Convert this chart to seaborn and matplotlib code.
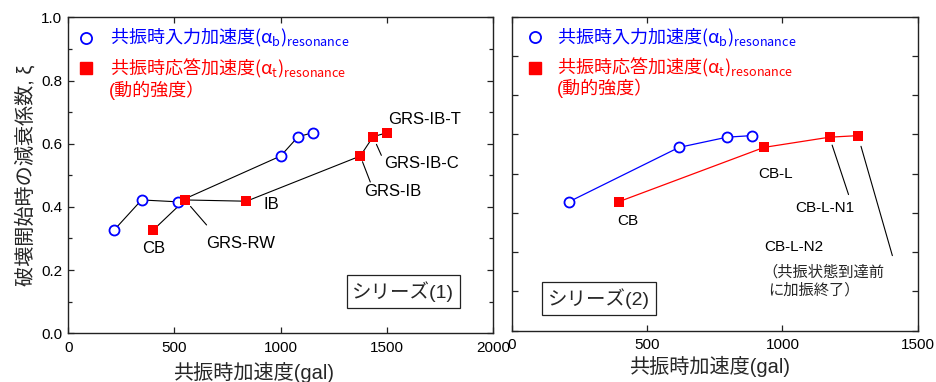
import matplotlib
matplotlib.use("Agg")
import matplotlib.pyplot as plt
from matplotlib.lines import Line2D
from matplotlib.ticker import MultipleLocator, FormatStrFormatter
import seaborn as sns
import pandas as pd

# ---------------- data ----------------
# Series (1)
s1_input_x = [216, 345, 517, 1000, 1082, 1152]
s1_input_y = [0.327, 0.422, 0.416, 0.561, 0.622, 0.635]
s1_resp_labels = ["CB", "GRS-RW", "IB", "GRS-IB", "GRS-IB-C", "GRS-IB-T"]
s1_resp_x = [400, 549, 839, 1375, 1435, 1502]
s1_resp_y = [0.327, 0.422, 0.418, 0.561, 0.622, 0.635]

# Series (2)
s2_input_x = [213, 618, 795, 886]
s2_input_y = [0.329, 0.467, 0.493, 0.497]
s2_resp_labels = ["CB", "CB-L", "CB-L-N1", "CB-L-N2"]
s2_resp_x = [397, 932, 1174, 1279]
s2_resp_y = [0.329, 0.467, 0.493, 0.497]

x_ticks_1 = [0, 500, 1000, 1500, 2000]
x_ticks_2 = [0, 500, 1000, 1500]

label_input = "共振時入力加速度(α$_\\mathrm{b}$)$_\\mathrm{resonance}$"
label_resp = "共振時応答加速度(α$_\\mathrm{t}$)$_\\mathrm{resonance}$"
label_resp2 = "(動的強度）"
xlabel = "共振時加速度(gal)"
ylabel = "破壊開始時の減衰係数, ξ"

BLUE = "#0000FF"
RED = "#FF0000"

sns.set_theme(style="ticks")
plt.rcParams["font.family"] = ["Liberation Sans", "Noto Sans CJK JP", "DejaVu Sans"]
plt.rcParams["mathtext.fontset"] = "custom"
plt.rcParams["mathtext.rm"] = "Noto Sans CJK JP"
plt.rcParams["mathtext.it"] = "Noto Sans CJK JP"
plt.rcParams["mathtext.bf"] = "Noto Sans CJK JP:bold"

fig = plt.figure(figsize=(9.36, 3.82), dpi=100)
ax1 = fig.add_axes([0.0730, 0.1275, 0.4537, 0.8272])
ax2 = fig.add_axes([0.5467, 0.1343, 0.4338, 0.8220])

df1_in = pd.DataFrame({"x": s1_input_x, "y": s1_input_y})
df1_re = pd.DataFrame({"x": s1_resp_x, "y": s1_resp_y, "label": s1_resp_labels})
df2_in = pd.DataFrame({"x": s2_input_x, "y": s2_input_y})
df2_re = pd.DataFrame({"x": s2_resp_x, "y": s2_resp_y, "label": s2_resp_labels})


def draw_series(ax, din, dre, line_in, line_re, lw):
    sns.lineplot(data=din, x="x", y="y", sort=False, estimator=None, ax=ax,
                 color=line_in, lw=lw, zorder=2)
    sns.lineplot(data=dre, x="x", y="y", sort=False, estimator=None, ax=ax,
                 color=line_re, lw=lw, zorder=2)
    sns.scatterplot(data=din, x="x", y="y", ax=ax, marker="o", s=52,
                    facecolor="white", edgecolor=BLUE, linewidth=1.3, zorder=3)
    sns.scatterplot(data=dre, x="x", y="y", ax=ax, marker="s", s=54,
                    color=RED, edgecolor=RED, linewidth=0, zorder=4)


draw_series(ax1, df1_in, df1_re, "black", "black", 0.8)
draw_series(ax2, df2_in, df2_re, BLUE, RED, 0.9)

# ---------------- axes styling ----------------
for ax in (ax1, ax2):
    for sp in ax.spines.values():
        sp.set_color("#222222")
        sp.set_linewidth(1.0)
        sp.set_visible(True)
    ax.tick_params(which="both", direction="in", top=True, right=True,
                   colors="#222222", width=0.9, labelsize=11, labelcolor="black")
    ax.tick_params(which="major", length=4.5)
    ax.tick_params(which="minor", length=3)
    ax.tick_params(axis="x", pad=5.5)
    ax.tick_params(axis="y", pad=4.5)
    ax.set_ylabel("")
    ax.set_xlabel("")

ax1.set_xlim(0, 2000)
ax1.set_ylim(0, 1.0)
ax1.set_xticks(x_ticks_1)
ax1.yaxis.set_major_locator(MultipleLocator(0.2))
ax1.yaxis.set_minor_locator(MultipleLocator(0.1))
ax1.yaxis.set_major_formatter(FormatStrFormatter("%.1f"))

ax2.set_xlim(0, 1500)
ax2.set_ylim(0, 0.8)
ax2.set_xticks(x_ticks_2)
ax2.yaxis.set_major_locator(MultipleLocator(0.1))
ax2.tick_params(axis="y", labelleft=False)

ax1.set_xlabel(xlabel, fontsize=14.5)
ax1.xaxis.set_label_coords(0.435, -0.089)
ax1.xaxis.label.set_va("top")
ax2.set_xlabel(xlabel, fontsize=14.5)
ax2.xaxis.set_label_coords(0.486, -0.080)
ax2.xaxis.label.set_va("top")
ax1.set_ylabel(ylabel, fontsize=14.5)
ax1.yaxis.set_label_coords(-0.078, 0.5)

# ---------------- legends ----------------
def add_legend(ax, x0, top, pad, rx, ry):
    handles = [
        Line2D([], [], ls="none", marker="o", markersize=8, markerfacecolor="white",
               markeredgecolor=BLUE, markeredgewidth=1.3),
        Line2D([], [], ls="none", marker="s", markersize=9, markerfacecolor=RED,
               markeredgecolor=RED),
    ]
    ax.legend(handles, [label_input, label_resp], loc="upper left",
              bbox_to_anchor=(x0, top), frameon=False,
              prop={"family": "Noto Sans CJK JP", "size": 13},
              handlelength=1.0, handletextpad=pad, borderpad=0, borderaxespad=0,
              labelspacing=0.42, labelcolor=[BLUE, RED])
    ax.text(rx, ry, label_resp2, transform=ax.transAxes, color=RED, fontsize=13,
            ha="left", va="center")


add_legend(ax1, 0.0193, 0.968, 0.85, 0.0965, 0.769)
add_legend(ax2, 0.0352, 0.968, 0.74, 0.112, 0.773)

# ---------------- series boxes ----------------
box = dict(boxstyle="square,pad=0.3", facecolor="white", edgecolor="#222222", lw=0.9)
ax1.text(0.789, 0.1316, "シリーズ(1)", transform=ax1.transAxes, fontsize=14,
         ha="center", va="center", bbox=box)
ax2.text(0.2145, 0.102, "シリーズ(2)", transform=ax2.transAxes, fontsize=14,
         ha="center", va="center", bbox=box)

# ---------------- point labels ----------------
lab1 = {
    "CB": ((0, -13.7), "center"),
    "GRS-RW": ((15.6, -31.2), "left"),
    "IB": ((12, -2.7), "left"),
    "GRS-IB": ((3.1, -25.9), "left"),
    "GRS-IB-C": ((7.9, -19.2), "left"),
    "GRS-IB-T": ((0.7, 9.6), "left"),
}
lead1 = {"GRS-RW": ((15.6, -18), 6.2), "GRS-IB": ((7.2, -18.7), 4.4),
         "GRS-IB-C": ((6, -13.4), 6)}
for lab, x, y in zip(s1_resp_labels, s1_resp_x, s1_resp_y):
    off, ha = lab1[lab]
    ax1.annotate(lab, (x, y), xytext=off, textcoords="offset points",
                 ha=ha, va="center", fontsize=12, color="black")
    if lab in lead1:
        loff, sh = lead1[lab]
        ax1.annotate("", (x, y), xytext=loff, textcoords="offset points",
                     arrowprops=dict(arrowstyle="-", color="black", lw=0.8,
                                     shrinkA=0, shrinkB=sh))

lab2 = {
    "CB": ((6.3, -13.7), "center"),
    "CB-L": ((8.5, -19.2), "center"),
    "CB-L-N1": ((-3.1, -50.8), "center"),
    "CB-L-N2": ((-67.7, -80.4), "left"),
}
lead2 = {"CB-L-N1": ((13.7, -41.3), 6), "CB-L-N2": ((24.8, -86.4), 8)}
for lab, x, y in zip(s2_resp_labels, s2_resp_x, s2_resp_y):
    off, ha = lab2[lab]
    ax2.annotate(lab, (x, y), xytext=off, textcoords="offset points",
                 ha=ha, va="center", fontsize=11, color="black")
    if lab in lead2:
        loff, sh = lead2[lab]
        ax2.annotate("", (x, y), xytext=loff, textcoords="offset points",
                     arrowprops=dict(arrowstyle="-", color="black", lw=0.8,
                                     shrinkA=0, shrinkB=sh))
# note for CB-L-N2
n2x, n2y = s2_resp_x[3], s2_resp_y[3]
ax2.annotate("（共振状態到達前", (n2x, n2y), xytext=(-68.5, -98.3),
             textcoords="offset points", ha="left", va="center", fontsize=11)
ax2.annotate("に加振終了）", (n2x, n2y), xytext=(-64.5, -111.5),
             textcoords="offset points", ha="left", va="center", fontsize=11)

fig.savefig("out.png", dpi=100)
